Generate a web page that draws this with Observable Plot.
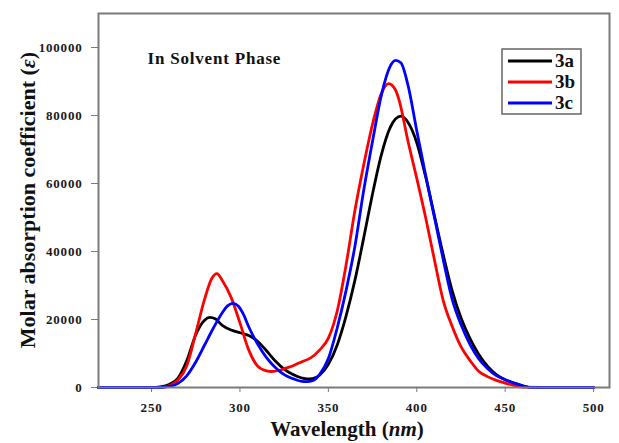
<!DOCTYPE html>
<html><head><meta charset="utf-8">
<script src="https://cdn.jsdelivr.net/npm/d3@7"></script>
<script src="https://cdn.jsdelivr.net/npm/@observablehq/plot@0.6"></script>
<style>
html,body{margin:0;padding:0;background:#fff;}
#chart{position:relative;width:619px;height:443px;}
</style>
</head><body><div id="chart"></div>
<script>
const xTicks = [250, 300, 350, 400, 450, 500];
const yTicks = [0, 20000, 40000, 60000, 80000, 100000];
const seriesNames = ["3a", "3b", "3c"];
const seriesColors = ["#000000", "#ff0000", "#0000ff"];
const titleText = "In Solvent Phase";

const wl3a = [220, 240, 250, 255, 260, 265, 270, 275, 280, 283, 286, 290, 295, 300, 305, 310, 315, 320, 325, 330, 335, 338, 341, 345, 350, 355, 360, 365, 370, 375, 380, 385, 391, 395, 400, 405, 410, 415, 420, 425, 430, 435, 440, 445, 450, 455, 460, 465, 480, 500];
const eps3a = [0, 0, 0, 200, 900, 2800, 8000, 15500, 19800, 20600, 20200, 18300, 16900, 16100, 15300, 13600, 10800, 7800, 5400, 3800, 2800, 2500, 2600, 3600, 6800, 12500, 21000, 31500, 44000, 57000, 68500, 76500, 79800, 78000, 72000, 62000, 50500, 39000, 28500, 20500, 14500, 9800, 6300, 3800, 2300, 1300, 500, 0, 0, 0];

const wl3b = [220, 240, 255, 260, 265, 270, 275, 280, 284, 287, 290, 295, 300, 305, 310, 315, 318, 322, 326, 330, 335, 340, 345, 350, 355, 360, 365, 370, 375, 380, 384, 388, 390, 395, 400, 405, 410, 415, 420, 425, 430, 435, 440, 445, 450, 455, 460, 480, 500];
const eps3b = [0, 0, 0, 500, 2200, 6500, 16000, 26000, 32000, 33500, 31500, 26500, 19000, 11000, 6300, 4900, 4700, 5000, 5700, 6400, 7600, 8700, 11000, 14500, 22500, 36000, 52000, 65500, 77500, 86500, 89400, 87500, 84500, 72500, 61500, 50000, 37500, 25500, 18000, 12000, 8000, 4800, 3200, 2100, 1300, 600, 100, 0, 0];

const wl3c = [220, 240, 255, 260, 265, 270, 275, 280, 285, 290, 293, 296, 299, 302, 305, 310, 315, 320, 325, 330, 335, 338, 341, 345, 350, 355, 360, 365, 370, 375, 380, 385, 388, 391, 395, 400, 405, 410, 415, 420, 425, 430, 435, 440, 445, 450, 455, 460, 465, 480, 500];
const eps3c = [0, 0, 0, 300, 1200, 3500, 7500, 12500, 17500, 22000, 24000, 24750, 24000, 21500, 17800, 12800, 8800, 5900, 3800, 2600, 1800, 1750, 2000, 3800, 8500, 17500, 28500, 41500, 58000, 72500, 86000, 94500, 96200, 95500, 89000, 75500, 62500, 50000, 37500, 26000, 18500, 12800, 8500, 5600, 3500, 2300, 1300, 500, 0, 0, 0];

const rows = [];
[[wl3a, eps3a], [wl3b, eps3b], [wl3c, eps3c]].forEach(([w, e], i) =>
  w.forEach((x, j) => rows.push({series: seriesNames[i], wl: x, eps: e[j]})));

const serif = "'Liberation Serif','Times New Roman',serif";

const chart = Plot.plot({
  width: 619, height: 443,
  marginLeft: 98, marginRight: 10, marginTop: 13, marginBottom: 56,
  style: {fontFamily: serif, fontWeight: "bold", fontSize: "13px", color: "#111", background: "#fff"},
  x: {domain: [220, 509]},
  y: {domain: [0, 110000]},
  color: {domain: seriesNames, range: seriesColors},
  marks: [
    Plot.axisX({ticks: xTicks, tickSize: 5, tickPadding: 10, tickFormat: d3.format("d"), label: null, stroke: "#7a7a7a", fill: "#1a1a1a", fontWeight: "bold"}),
    Plot.axisY({ticks: yTicks, tickSize: 7, tickPadding: 9, tickFormat: d3.format("d"), label: null, stroke: "#7a7a7a", fill: "#1a1a1a", fontWeight: "bold"}),
    Plot.line(rows, {x: "wl", y: "eps", z: "series", stroke: "series", strokeWidth: 2.8, curve: "monotone-x"}),
    Plot.frame({stroke: "#7a7a7a", strokeWidth: 2}),
    Plot.text([titleText], {text: d => d, frameAnchor: "top-left", dx: 49, dy: 38, textAnchor: "start", fontSize: 17, fontWeight: "bold", fill: "#111"})
  ]
});
document.getElementById("chart").appendChild(chart);

const svg = d3.select(chart);
svg.selectAll("g[aria-label$='tick label'] text").attr("letter-spacing", "0.8px");
svg.selectAll("g[aria-label='text'] text").attr("letter-spacing", "0.8px");

// axis titles
const xt = svg.append("text").attr("x", 347).attr("y", 436).attr("text-anchor", "middle")
  .attr("font-family", serif).attr("font-weight", "bold").attr("font-size", 21).attr("fill", "#111");
xt.append("tspan").text("Wavelength (");
xt.append("tspan").attr("font-style", "italic").text("nm");
xt.append("tspan").text(")");

const yt = svg.append("text").attr("transform", "translate(35,200) rotate(-90)").attr("text-anchor", "middle")
  .attr("font-family", serif).attr("font-weight", "bold").attr("font-size", 22).attr("fill", "#111");
yt.append("tspan").text("Molar absorption coefficient (");
yt.append("tspan").attr("font-style", "italic").text("ε");
yt.append("tspan").text(")");

// legend
const lg = svg.append("g");
lg.append("rect").attr("x", 502).attr("y", 49).attr("width", 79).attr("height", 65)
  .attr("fill", "#fff").attr("stroke", "#666").attr("stroke-width", 1.5);
seriesNames.forEach((s, i) => {
  const cy = 61 + i * 21;
  lg.append("line").attr("x1", 508).attr("x2", 552).attr("y1", cy).attr("y2", cy)
    .attr("stroke", seriesColors[i]).attr("stroke-width", 2.8);
  lg.append("text").attr("x", 555).attr("y", cy + 6).attr("text-anchor", "start").text(s)
    .attr("font-family", serif).attr("font-weight", "bold").attr("font-size", 19).attr("fill", "#111");
});
</script>
</body></html>
